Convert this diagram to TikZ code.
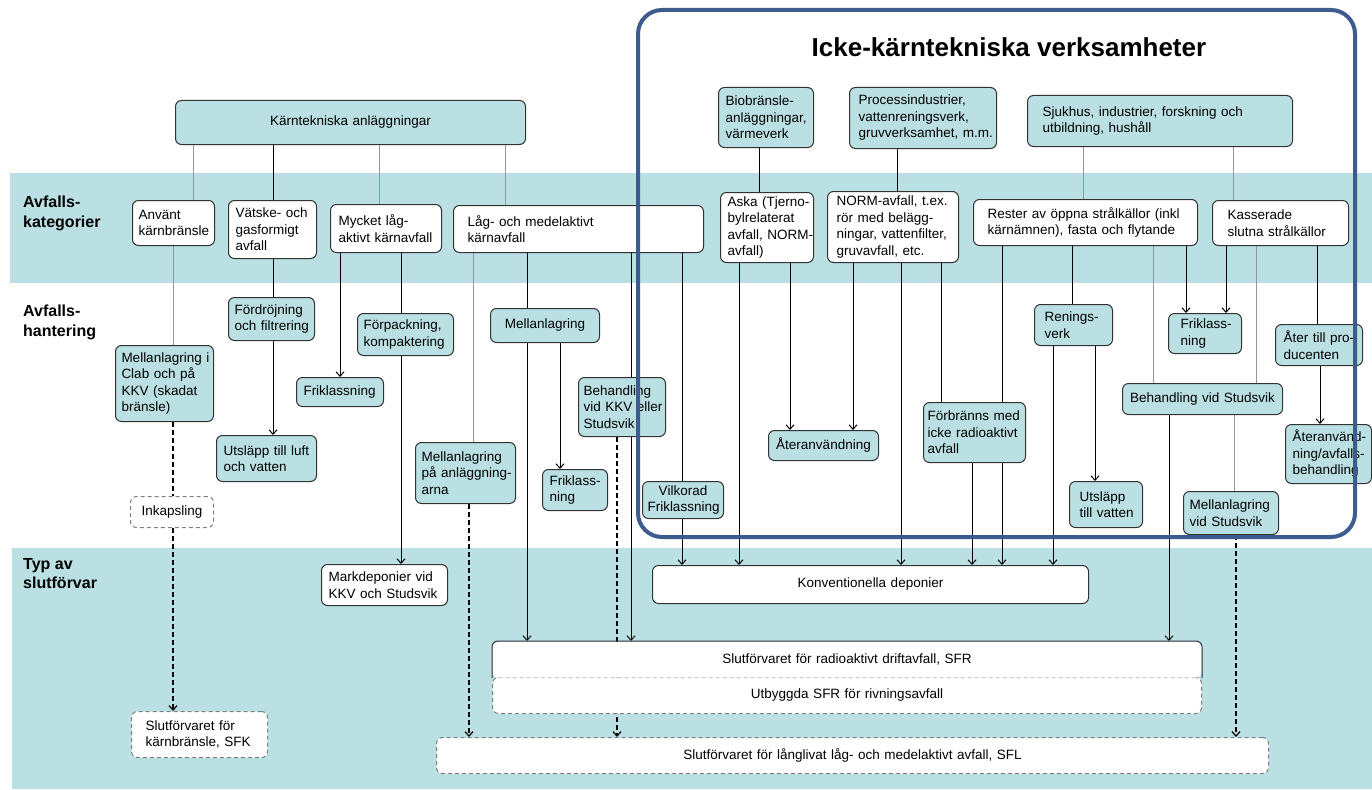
\documentclass[tikz,border=0pt]{standalone}
\usepackage{fontspec}
\setmainfont{Liberation Sans}
\usetikzlibrary{arrows.meta}
\definecolor{bandblue}{RGB}{187,224,228}
\definecolor{frameblue}{RGB}{59,92,140}
\definecolor{boxline}{RGB}{50,50,50}
\definecolor{linkgray}{RGB}{150,150,150}
\hyphenpenalty=10000
\exhyphenpenalty=10000
\pgfdeclarelayer{bands}
\pgfdeclarelayer{links}
\pgfsetlayers{bands,links,main}
\tikzset{
  box/.style={draw=boxline, line width=1pt, rounded corners=6pt, anchor=north west,
    align=left, inner ysep=1pt, font=\fontsize{13.5}{16.5}\selectfont},
  tbox/.style={box, fill=bandblue},
  wbox/.style={box, fill=white},
  dbox/.style={box, fill=white, draw=gray, dash pattern=on 4pt off 3pt},
  sz/.style n args={3}{text width=#1pt, inner xsep=#2pt, minimum height=#3pt},
  rowlabel/.style={anchor=north west, align=left, inner sep=0pt, font=\fontsize{16}{19.5}\selectfont\bfseries},
  link/.style={black, line width=1pt},
  glink/.style={linkgray, line width=0.9pt},
  dlink/.style={black, line width=1.2pt, dash pattern=on 4.5pt off 3.5pt},
  >={Straight Barb[length=4.5pt,width=8pt]},
}
\begin{document}
\begin{tikzpicture}[x=1pt, y=-1pt]
  \useasboundingbox (0,0) rectangle (1372,789);
  \begin{pgfonlayer}{bands}
    \fill[bandblue] (10,173) rectangle (1372,283);
    \fill[bandblue] (12,548) rectangle (1372,789);
  \end{pgfonlayer}

  % row labels
  \node[rowlabel] (lcat) at (23,196) {Avfalls-\\kategorier};
  \node[rowlabel] (lhan) at (23,305) {Avfalls-\\hantering};
  \node[rowlabel] (ltyp) at (23,558) {Typ av\\slutförvar};

  % sources
  \node[tbox, align=center, sz={336}{7}{44}] (kt) at (175,100) {Kärntekniska anläggningar};
  \node[tbox, sz={81}{7}{60}] (bio) at (718,87) {Biobränsle-\\anläggningar,\\värmeverk};
  \node[tbox, sz={129}{9}{61}] (proc) at (849,87) {Processindustrier,\\vattenreningsverk,\\gruvverksamhet,~m.m.};
  \node[tbox, sz={235}{15}{51}] (sjuk) at (1027,95) {Sjukhus, industrier, forskning och\\utbildning, hushåll};

  % waste categories
  \node[wbox, sz={70}{6}{45}] (anv) at (132,200) {Använt\\kärnbränsle};
  \node[wbox, sz={74}{7}{58}] (vat) at (228,200) {Vätske-~och\\gasformigt\\avfall};
  \node[wbox, sz={95}{8}{48}] (myc) at (330,204) {Mycket låg-\\aktivt~kärnavfall};
  \node[wbox, sz={222}{14}{47}] (lom) at (453,205) {Låg- och medelaktivt\\kärnavfall};
  \node[wbox, sz={79}{7}{70}] (aska) at (720,192) {Aska~(Tjerno-\\bylrelaterat\\avfall,~NORM-\\avfall)};
  \node[wbox, sz={113}{9}{71}] (norm) at (827,191) {NORM-avfall, t.ex.\\rör med belägg-\\ningar,~vattenfilter,\\gruvavfall, etc.};
  \node[wbox, sz={196}{14}{46}] (rest) at (973,199) {Rester av öppna strålkällor (inkl\\kärnämnen), fasta och flytande};
  \node[wbox, sz={106}{15}{45}] (kass) at (1212,200) {Kasserade\\slutna strålkällor};

  % handling
  \node[tbox, sz={86}{6}{76}] (clab) at (115,345) {Mellanlagring~i\\Clab och på\\KKV (skadat\\bränsle)};
  \node[tbox, sz={74}{6}{43}] (ford) at (228,297) {Fördröjning\\och~filtrering};
  \node[tbox, sz={84}{6}{42}] (forp) at (357,313) {Förpackning,\\kompaktering};
  \node[tbox, sz={73}{7}{29}] (frik1) at (296,377) {Friklassning};
  \node[tbox, sz={86}{7}{46}] (utl) at (216,435) {Utsläpp till luft\\och vatten};
  \node[dbox, align=center, sz={69}{7}{31}] (inkap) at (130,496) {Inkapsling};
  \node[tbox, sz={88}{6}{61}] (mla) at (415,442) {Mellanlagring\\på~anläggning-\\arna};
  \node[tbox, align=center, sz={95}{7}{34}] (mell) at (490,308) {Mellanlagring};
  \node[tbox, sz={51}{7}{41}] (frik2) at (542,469) {Friklass-\\ning};
  \node[tbox, sz={77}{5}{59}] (beh) at (578,377) {Behandling\\vid~KKV~eller\\Studsvik};
  \node[tbox, align=center, sz={71}{5}{37}] (vilk) at (642,481) {Vilkorad\\Friklassning};
  \node[tbox, align=center, sz={98}{6}{30}] (ater) at (768,430) {Återanvändning};
  \node[tbox, sz={94}{4}{60}] (forb) at (923,402) {Förbränns med\\icke~radioaktivt\\avfall};
  \node[tbox, sz={58}{10}{41}] (ren) at (1034,304) {Renings-\\verk};
  \node[tbox, sz={53}{10}{46}] (utv) at (1069,481) {Utsläpp\\till~vatten};
  \node[tbox, sz={49}{12}{40}] (frik3) at (1168,313) {Friklass-\\ning};
  \node[tbox, align=center, sz={148}{6}{31}] (behs) at (1122,383) {Behandling vid Studsvik};
  \node[tbox, sz={71}{8}{41}] (aterp) at (1275,324) {Åter~till~pro-\\ducenten};
  \node[tbox, sz={72}{7}{59}] (ateraf) at (1285,424) {Återanvänd-\\ning/avfalls-\\behandling};
  \node[tbox, sz={83}{6}{43}] (mels) at (1183,491) {Mellanlagring\\vid Studsvik};

  % repositories
  \node[wbox, sz={112}{7}{41}] (mark) at (321,564) {Markdeponier vid\\KKV och Studsvik};
  \node[dbox, sz={108}{14}{46}] (sfk) at (131,711) {Slutförvaret för\\kärnbränsle, SFK};
  \node[wbox, align=center, sz={420}{8}{38}] (konv) at (652,565) {Konventionella deponier};
  \node[dbox, align=center, sz={693}{8}{36}] (utb) at (492,677) {Utbyggda SFR för rivningsavfall};
  \node[wbox, draw=none, align=center, sz={693}{8}{36}] (sfr) at (492,641) {Slutförvaret för radioaktivt driftavfall, SFR};
  \draw[boxline, line width=1pt, rounded corners=6pt] (sfr.south west) -- (sfr.north west) -- (sfr.north east) -- (sfr.south east);
  \node[dbox, align=center, sz={816}{8}{36}] (sfl) at (436,737) {Slutförvaret för långlivat låg- och medelaktivt avfall, SFL};

  \begin{pgfonlayer}{links}
    \foreach \a/\b/\x in {kt/anv/193, kt/myc/379, kt/lom/505, anv/clab/173, lom/mla/473,
        sjuk/rest/1083, sjuk/kass/1233, rest/behs/1153, kass/behs/1256, behs/mels/1234}
      \draw[glink] (\a.south -| \x,0) -- (\b.north -| \x,0);
    \foreach \a/\b/\x in {kt/vat/273, vat/ford/273, myc/forp/401, lom/mell/527, bio/aska/759,
        proc/norm/897, norm/forb/941, rest/ren/1072, kass/aterp/1317}
      \draw[link] (\a.south -| \x,0) -- (\b.north -| \x,0);
    \foreach \a/\b/\x in {ford/utl/273, myc/frik1/340, forp/mark/401, mell/frik2/560, mell/sfr/527,
        lom/sfr/631, lom/konv/682, aska/konv/739, aska/ater/790, norm/ater/853, norm/konv/901,
        forb/konv/972, rest/konv/1002, ren/konv/1053, ren/utv/1095, rest/frik3/1186,
        kass/frik3/1226, behs/sfr/1169, aterp/ateraf/1320}
      \draw[link, ->] (\a.south -| \x,0) -- (\b.north -| \x,0);
    \draw[dlink] (clab.south -| 173,0) -- (inkap.north -| 173,0);
    \foreach \a/\b/\x in {inkap/sfk/173, mla/sfl/469, beh/sfl/617, mels/sfl/1236}
      \draw[dlink, ->] (\a.south -| \x,0) -- (\b.north -| \x,0);
  \end{pgfonlayer}

  % non-nuclear frame
  \draw[frameblue, line width=4pt, rounded corners=24pt] (638,10) rectangle (1355,537);
  \node[font=\fontsize{26}{30}\selectfont\bfseries] (title) at (1009,47) {Icke-kärntekniska verksamheter};
\end{tikzpicture}
\end{document}
